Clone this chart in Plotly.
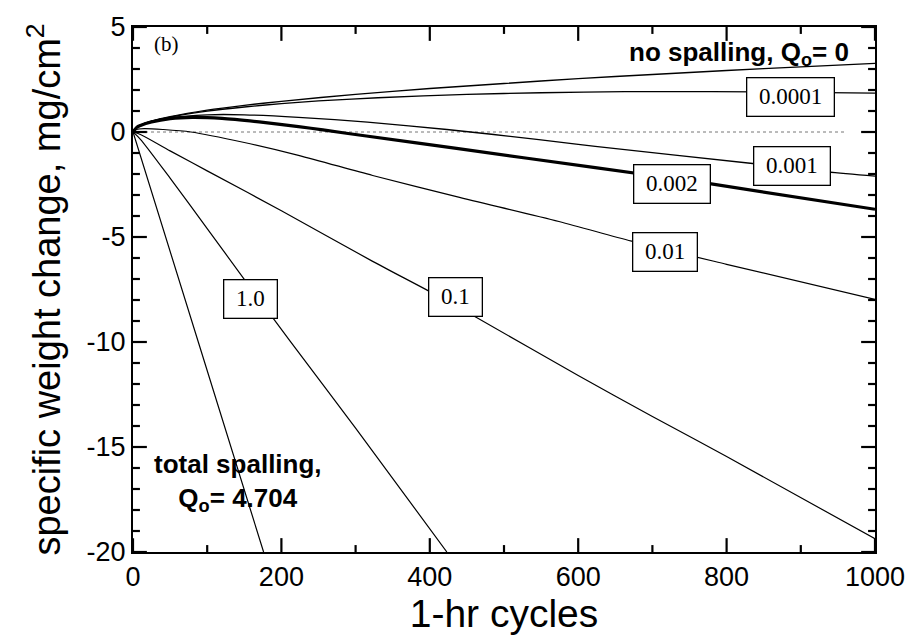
import plotly.graph_objects as go

# ---- data (cycles, mg/cm^2) ----
no_spall_x = [0, 5, 10, 25, 50, 100, 150, 200, 300, 400, 500, 600, 700, 800, 900, 1000]
no_spall_y = [0, 0.23, 0.33, 0.52, 0.73, 1.04, 1.27, 1.46, 1.79, 2.07, 2.31, 2.54, 2.74, 2.93, 3.10, 3.27]

q0001_x = [0, 5, 10, 25, 50, 100, 150, 200, 250, 330, 450, 550, 663, 780, 900, 1000]
q0001_y = [0, 0.23, 0.33, 0.51, 0.71, 0.99, 1.19, 1.35, 1.48, 1.63, 1.79, 1.87, 1.92, 1.92, 1.89, 1.85]

q001_x = [0, 5, 10, 25, 50, 100, 150, 223, 316, 423, 547, 623, 835, 935, 1000]
q001_y = [0, 0.22, 0.32, 0.50, 0.68, 0.82, 0.82, 0.70, 0.47, 0.12, -0.36, -0.68, -1.50, -1.90, -2.10]

q002_x = [0, 5, 10, 25, 50, 80, 120, 170, 223, 256, 312, 436, 623, 775, 1000]
q002_y = [0, 0.22, 0.31, 0.48, 0.64, 0.70, 0.65, 0.48, 0.26, 0.10, -0.18, -0.78, -1.70, -2.45, -3.68]

q01_x = [0, 5, 15, 40, 78, 150, 223, 323, 436, 574, 672, 800, 1000]
q01_y = [0, 0.12, 0.16, 0.12, 0.0, -0.50, -1.11, -2.07, -3.08, -4.26, -5.20, -6.30, -7.97]

q1_x = [0, 10, 50, 100, 200, 323, 400, 463, 600, 700, 800, 1000]
q1_y = [0, -0.12, -0.90, -1.85, -3.75, -6.16, -7.60, -8.83, -11.60, -13.55, -15.45, -19.37]

q10_x = [0, 10, 50, 100, 148, 212, 300, 423]
q10_y = [0, -0.35, -2.20, -4.60, -6.92, -9.97, -14.10, -20.0]

total_x = [0, 88, 176]
total_y = [0, -10.0, -20.0]

zero_x = [0, 960]
zero_y = [0, 0]

# tick values / labels
x_tickvals = [0, 200, 400, 600, 800, 1000]
x_ticktext = ["0", "200", "400", "600", "800", "1000"]
x_minorvals = [100, 300, 500, 700, 900]
y_tickvals = [-20, -15, -10, -5, 0, 5]
y_ticktext = ["-20", "-15", "-10", "-5", "0", "5"]
y_minorvals = [v for v in range(-19, 5) if v % 5 != 0]

X_RANGE = [0, 1000]
Y_RANGE = [-20, 5]

# label text and where each label sits (cycle, value)
label_text = ["0.0001", "0.001", "0.002", "0.01", "0.1", "1.0"]
label_x = [886, 888, 726, 717, 434, 158]
label_y = [1.69, -1.60, -2.48, -5.71, -7.88, -7.94]

fig = go.Figure()

fig.add_trace(go.Scatter(x=zero_x, y=zero_y, mode="lines",
                         line=dict(color="#777777", width=1, dash="dot"),
                         showlegend=False, hoverinfo="skip"))

series = [
    (no_spall_x, no_spall_y, 1.4),
    (q0001_x, q0001_y, 1.3),
    (q001_x, q001_y, 1.3),
    (q002_x, q002_y, 3.2),
    (q01_x, q01_y, 1.2),
    (q1_x, q1_y, 1.2),
    (q10_x, q10_y, 1.2),
    (total_x, total_y, 1.2),
]
for xs, ys, w in series:
    fig.add_trace(go.Scatter(x=xs, y=ys, mode="lines",
                             line=dict(color="black", width=w, shape="spline", smoothing=0.8),
                             showlegend=False))

# inside tick marks on all four sides, drawn as a line trace
# (plot area is 749 x 530 px -> convert pixel lengths to data units)
PLOT_W, PLOT_H = 749.0, 530.0
ux = (X_RANGE[1] - X_RANGE[0]) / PLOT_W
uy = (Y_RANGE[1] - Y_RANGE[0]) / PLOT_H
MAJ, MIN = 14.0, 7.0
tx, ty = [], []
for vals, L in ((x_tickvals, MAJ), (x_minorvals, MIN)):
    for v in vals:
        tx += [v, v, None, v, v, None]
        ty += [Y_RANGE[0], Y_RANGE[0] + L * uy, None, Y_RANGE[1], Y_RANGE[1] - L * uy, None]
for vals, L in ((y_tickvals, MAJ), (y_minorvals, MIN)):
    for v in vals:
        tx += [X_RANGE[0], X_RANGE[0] + L * ux, None, X_RANGE[1], X_RANGE[1] - L * ux, None]
        ty += [v, v, None, v, v, None]
fig.add_trace(go.Scatter(x=tx, y=ty, mode="lines", line=dict(color="black", width=2.2),
                         connectgaps=False, showlegend=False, hoverinfo="skip", cliponaxis=False))

NB = "\u00a0"
annotations = []
for t, x, y in zip(label_text, label_x, label_y):
    annotations.append(dict(x=x, y=y, xref="x", yref="y", text=NB + t + NB, showarrow=False,
                            font=dict(family="Liberation Serif", size=23, color="black"),
                            bgcolor="white", bordercolor="black", borderwidth=1.3,
                            borderpad=6))

annotations.append(dict(x=968, y=3.76, xref="x", yref="y", xanchor="right", yanchor="middle",
                        text="<b>no spalling, Q<sub>o</sub>= 0</b>", showarrow=False,
                        font=dict(family="Liberation Sans", size=26, color="black")))
annotations.append(dict(x=141, y=-16.7, xref="x", yref="y", xanchor="center", yanchor="middle",
                        text="<b>total spalling,<br>Q<sub>o</sub>= 4.704</b>", showarrow=False,
                        align="center",
                        font=dict(family="Liberation Sans", size=26, color="black")))
annotations.append(dict(x=45, y=4.2, xref="x", yref="y", xanchor="center", yanchor="middle",
                        text="(b)", showarrow=False,
                        font=dict(family="Liberation Serif", size=21, color="black")))

fig.update_layout(
    width=917, height=642,
    margin=dict(l=133, r=35, t=22, b=90),
    plot_bgcolor="white", paper_bgcolor="white",
    annotations=annotations,
    font=dict(family="Liberation Sans", color="black"),
)

fig.update_xaxes(range=X_RANGE, tickmode="array", tickvals=x_tickvals, ticktext=x_ticktext,
                 showline=True, linecolor="black", linewidth=2, mirror=True,
                 ticks="", showgrid=False, zeroline=False,
                 tickfont=dict(family="Liberation Sans", size=27, color="black"),
                 title=dict(text="1-hr cycles", font=dict(family="Liberation Sans", size=39, color="black"),
                            standoff=4))
fig.update_yaxes(range=Y_RANGE, tickmode="array", tickvals=y_tickvals, ticktext=y_ticktext,
                 showline=True, linecolor="black", linewidth=2, mirror=True,
                 ticks="", showgrid=False, zeroline=False,
                 tickfont=dict(family="Liberation Sans", size=27, color="black"),
                 title=dict(text="specific weight change, mg/cm<sup>2</sup>",
                            font=dict(family="Liberation Sans", size=38, color="black"),
                            standoff=14))

fig.write_html("out.html")
